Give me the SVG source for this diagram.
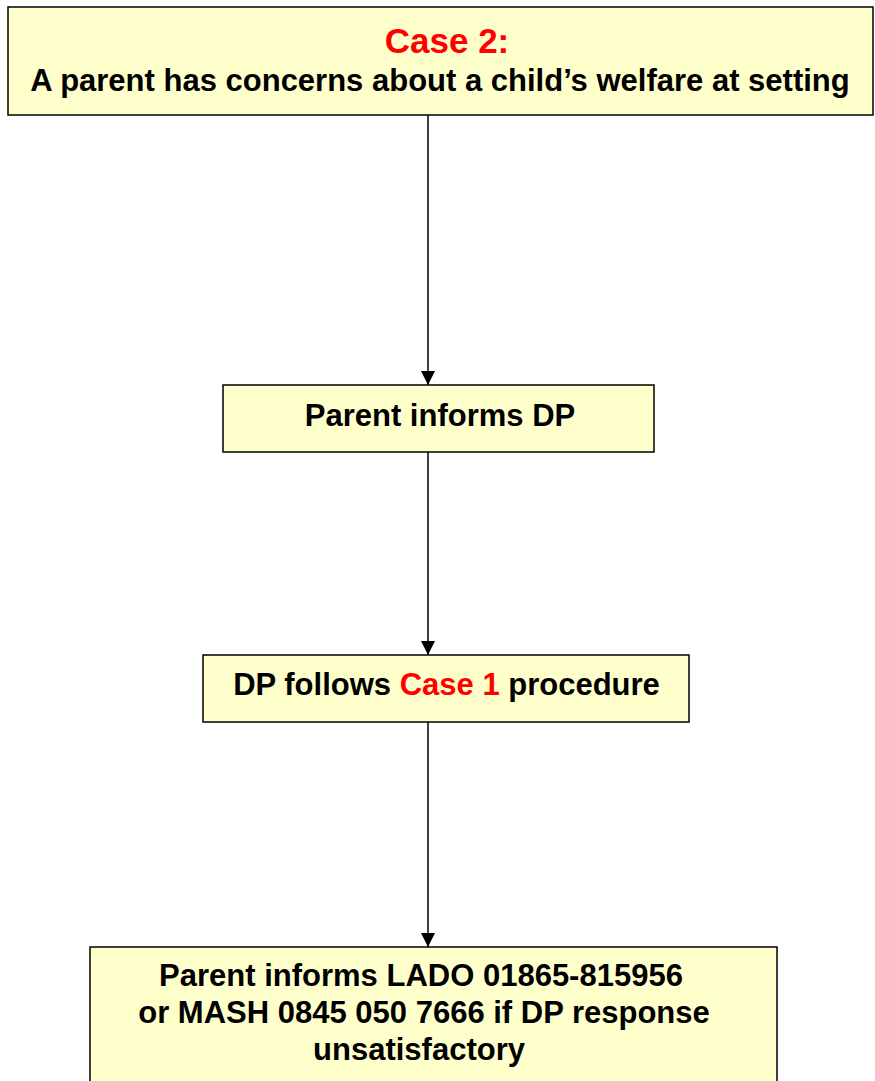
<svg xmlns="http://www.w3.org/2000/svg" width="875" height="1081" viewBox="0 0 875 1081">
  <style>
    .box { fill: #FFFFCC; stroke: #000; stroke-width: 1.5; }
    .t { font-family: "Liberation Sans", Arial, sans-serif; font-weight: bold; fill: #000; text-anchor: middle; font-size: 31px; }
    .red { fill: #FF0000; }
    .conn { stroke: #000; stroke-width: 1.5; fill: none; marker-end: url(#arrow); }
  </style>
  <defs>
    <marker id="arrow" viewBox="0 0 10 10" refX="10" refY="5" markerUnits="userSpaceOnUse" markerWidth="14" markerHeight="16" orient="auto">
      <path d="M0,0 L10,5 L0,10 z" fill="#000"/>
    </marker>
  </defs>
  <rect width="875" height="1081" fill="#fff"/>

  <g id="connectors">
    <line class="conn" x1="428" y1="115" x2="428" y2="385"/>
    <line class="conn" x1="428" y1="452" x2="428" y2="655"/>
    <line class="conn" x1="428" y1="722" x2="428" y2="947"/>
  </g>

  <g id="case2">
    <rect class="box" x="8" y="7" width="865" height="108"/>
    <text class="t red" x="447" y="53" style="font-size:35px">Case 2:</text>
    <text class="t" x="440" y="91">A parent has concerns about a child’s welfare at setting</text>
  </g>

  <g id="parent-informs-dp">
    <rect class="box" x="223" y="385" width="431" height="67"/>
    <text class="t" x="440" y="426">Parent informs DP</text>
  </g>

  <g id="dp-follows">
    <rect class="box" x="203" y="655" width="486" height="67"/>
    <text class="t" x="446.5" y="695">DP follows <tspan class="red">Case 1</tspan> procedure</text>
  </g>

  <g id="lado-mash">
    <rect class="box" x="90" y="947" width="687" height="140"/>
    <text class="t" x="421" y="986">Parent informs LADO 01865-815956</text>
    <text class="t" x="424" y="1023">or MASH 0845 050 7666 if DP response</text>
    <text class="t" x="419" y="1060">unsatisfactory</text>
  </g>
</svg>
